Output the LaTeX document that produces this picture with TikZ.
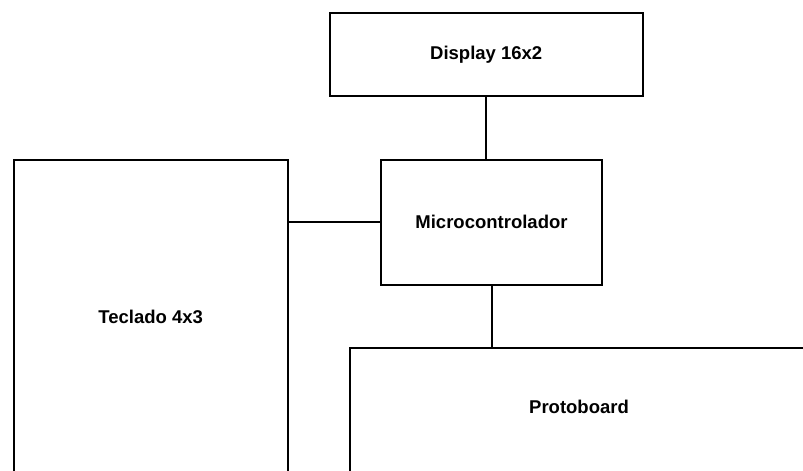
\documentclass[tikz,border=0pt]{standalone}
\usepackage{fontspec}
\setmainfont{Liberation Sans}
\begin{document}
\begin{tikzpicture}[x=1pt,y=-1pt,
  box/.style={draw=black, line width=2pt, rectangle, anchor=north west, inner sep=0pt,
    font=\fontsize{18.5}{22}\selectfont\bfseries, align=center},
  lbl/.style={font=\fontsize{18.5}{22}\selectfont\bfseries, inner sep=0pt},
  wire/.style={draw=black, line width=2pt}]
\clip (0,0) rectangle (803,471);
\fill[white] (0,0) rectangle (803,471);
\node[box, minimum width=313.5pt, minimum height=83pt] (disp) at (328.5,12) {Display 16x2};
\node[box, minimum width=221pt, minimum height=125.5pt] (micro) at (380,158.5) {Microcontrolador};
\node[box, minimum width=273.5pt, minimum height=315pt] (tec) at (13,158.5) {Teclado 4x3};
\node[box, minimum width=470pt, minimum height=140pt] (prot) at (349,347) {};
\node[lbl] (protlbl) at (579,407) {Protoboard};
\draw[wire] (disp.south) -- (disp.south |- micro.north);
\draw[wire] (micro.west) -- (micro.west -| tec.east);
\draw[wire] (micro.south) -- (micro.south |- prot.north);
\end{tikzpicture}
\end{document}
